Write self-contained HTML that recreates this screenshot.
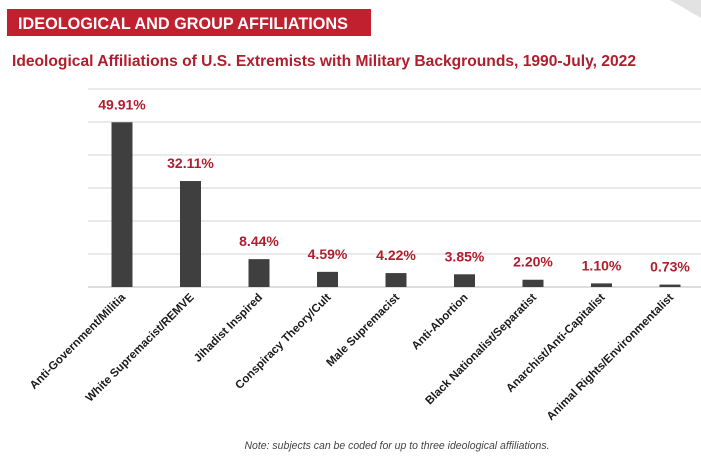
<!DOCTYPE html>
<html><head><meta charset="utf-8"><style>
body{margin:0;background:#fff;width:701px;height:468px;overflow:hidden}
svg{display:block;font-family:"Liberation Sans",sans-serif}
</style></head><body>
<svg id="c" width="701" height="468" viewBox="0 0 701 468">
<polygon points="670,0 701,0 701,18" fill="#e2e2e2"/>
<rect x="7" y="9" width="364" height="27" fill="#c1202f"/>
<text x="18" y="29" fill="#fff" font-weight="bold" font-size="17" textLength="330" lengthAdjust="spacingAndGlyphs">IDEOLOGICAL AND GROUP AFFILIATIONS</text>
<text x="12" y="66" fill="#b01e2d" font-weight="bold" font-size="16" textLength="624" lengthAdjust="spacingAndGlyphs">Ideological Affiliations of U.S. Extremists with Military Backgrounds, 1990-July, 2022</text>
<g id="grid"></g><g id="bars"></g>
<text x="397" y="449" text-anchor="middle" fill="#444" font-style="italic" font-size="11" textLength="305" lengthAdjust="spacingAndGlyphs">Note: subjects can be coded for up to three ideological affiliations.</text>
</svg>
<script>
const categories=["Anti-Government/Militia","White Supremacist/REMVE","Jihadist Inspired","Conspiracy Theory/Cult","Male Supremacist","Anti-Abortion","Black Nationalist/Separatist","Anarchist/Anti-Capitalist","Animal Rights/Environmentalist"];
const values=[49.91,32.11,8.44,4.59,4.22,3.85,2.20,1.10,0.73];
const gridTicks=[0,10,20,30,40,50,60];
const NS="http://www.w3.org/2000/svg";
const y=v=>287-v*3.3;
const x=i=>122+i*68.5;
const g=document.getElementById('grid'),b=document.getElementById('bars');
function mk(tag,attrs,parent){const e=document.createElementNS(NS,tag);for(const k in attrs)e.setAttribute(k,attrs[k]);parent.appendChild(e);return e;}
gridTicks.forEach(t=>{
 const l=mk('line',{x1:88,x2:701,y1:y(t),y2:y(t),stroke:t===0?'#bbb':'#d6d6d6','stroke-width':1},g);
 
 
});
values.forEach((v,i)=>{
 const r=mk('rect',{x:x(i)-10.5,y:y(v),width:21,height:287-y(v),fill:'#3f3f3f'},b);
 
 
 const t=mk('text',{x:x(i),y:y(v)-13,'text-anchor':'middle',fill:'#b01e2d','font-weight':'bold','font-size':14},b);
 t.textContent=v.toFixed(2)+'%';
 
 
 const c=mk('text',{transform:`translate(${x(i)+4},${298}) rotate(-45)`,'text-anchor':'end',fill:'#1a1a1a','font-weight':'bold','font-size':11.5},b);
 c.textContent=categories[i];
 
 
});
</script>
</body></html>
